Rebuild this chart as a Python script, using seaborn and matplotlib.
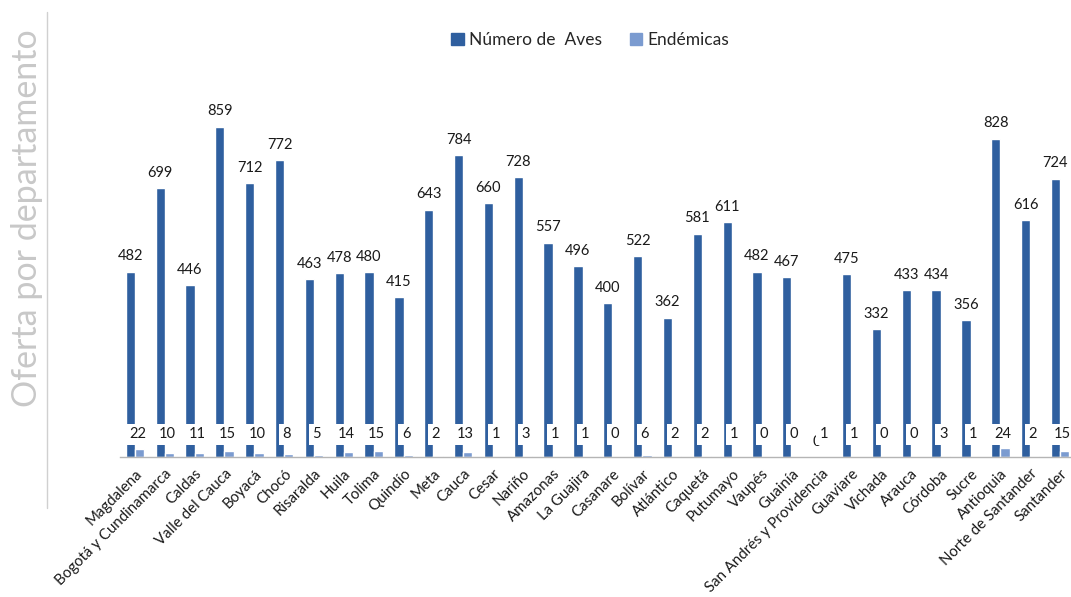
import matplotlib
matplotlib.use("Agg")
import matplotlib.pyplot as plt
from matplotlib.lines import Line2D
import seaborn as sns
import pandas as pd

departamentos = ["Magdalena", "Bogotá y Cundinamarca", "Caldas", "Valle del Cauca", "Boyacá",
                 "Chocó", "Risaralda", "Huila", "Tolima", "Quindío", "Meta", "Cauca", "Cesar",
                 "Nariño", "Amazonas", "La Guajira", "Casanare", "Bolívar", "Atlántico", "Caquetá",
                 "Putumayo", "Vaupés", "Guainía", "San Andrés y Providencia", "Guaviare", "Vichada",
                 "Arauca", "Córdoba", "Sucre", "Antioquia", "Norte de Santander", "Santander"]
aves = [482, 699, 446, 859, 712, 772, 463, 478, 480, 415, 643, 784, 660, 728, 557, 496, 400,
        522, 362, 581, 611, 482, 467, 0, 475, 332, 433, 434, 356, 828, 616, 724]
endemicas = [22, 10, 11, 15, 10, 8, 5, 14, 15, 6, 2, 13, 1, 3, 1, 1, 0, 6, 2, 2, 1, 0, 0, 1,
             1, 0, 0, 3, 1, 24, 2, 15]
serie_aves = "Número de  Aves"
serie_end = "Endémicas"

df = pd.concat([
    pd.DataFrame({"dep": departamentos, "valor": aves, "serie": serie_aves}),
    pd.DataFrame({"dep": departamentos, "valor": endemicas, "serie": serie_end}),
])

sns.set_theme(style="white")
plt.rcParams["font.family"] = ["Lato", "DejaVu Sans"]

W, H = 1071, 597
fig = plt.figure(figsize=(W / 100, H / 100), dpi=100)
ax = fig.add_axes([120 / W, (H - 457) / H, (1075 - 120) / W, (457 - 12) / H])

c_aves = "#2f5f9f"
c_end = "#7b9bd0"
sns.barplot(data=df, x="dep", y="valor", hue="serie", order=departamentos,
            hue_order=[serie_aves, serie_end], palette=[c_aves, c_end], width=0.62,
            ax=ax, legend=True, saturation=1)

ax.set_ylim(0, 1157)
ax.set_xlim(-0.5, len(departamentos) - 0.5)
for s in ["top", "right", "left"]:
    ax.spines[s].set_visible(False)
ax.spines["bottom"].set_color("#b5b5b5")
ax.spines["bottom"].set_linewidth(1)
ax.set_yticks([])
ax.set_xlabel("")
ax.set_ylabel("")
ax.tick_params(axis="x", length=0, pad=7)
plt.setp(ax.get_xticklabels(), rotation=45, ha="right", va="top", rotation_mode="anchor",
         fontsize=10.8, color="#1a1a1a")

cont_aves, cont_end = ax.containers[0], ax.containers[1]
for bar, v in zip(cont_aves, aves):
    ax.annotate(str(v), (bar.get_x() + bar.get_width() / 2, bar.get_height()),
                xytext=(0, 6), textcoords="offset points", ha="center", va="bottom",
                fontsize=10.5, color="#1a1a1a", zorder=3)
for bar, v in zip(cont_end, endemicas):
    ax.annotate(str(v), (bar.get_x() + bar.get_width() / 2, 59),
                xytext=(-1.5, 0), textcoords="offset points", ha="center", va="center",
                fontsize=10.5, color="#1a1a1a", zorder=5,
                bbox=dict(boxstyle="square,pad=0.25", fc="white", ec="none"))

leg = ax.get_legend()
if leg is not None:
    leg.remove()
handles = [plt.Rectangle((0, 0), 1, 1, color=c_aves), plt.Rectangle((0, 0), 1, 1, color=c_end)]
fig.legend(handles, [serie_aves, serie_end], loc="center", bbox_to_anchor=(0.551, 0.933),
           ncol=2, frameon=False, fontsize=12.5, handlelength=0.7, handleheight=0.7,
           handletextpad=0.3, columnspacing=1.6)

fig.text(27 / W, 1 - 218 / H, "Oferta por departamento", rotation=90, ha="center", va="center",
         fontsize=24.5, color="#c8c8c8")
fig.add_artist(Line2D([47 / W, 47 / W], [1 - 12 / H, 1 - 508 / H], color="#d0d0d0", lw=1))

fig.savefig("out.png", dpi=100)
